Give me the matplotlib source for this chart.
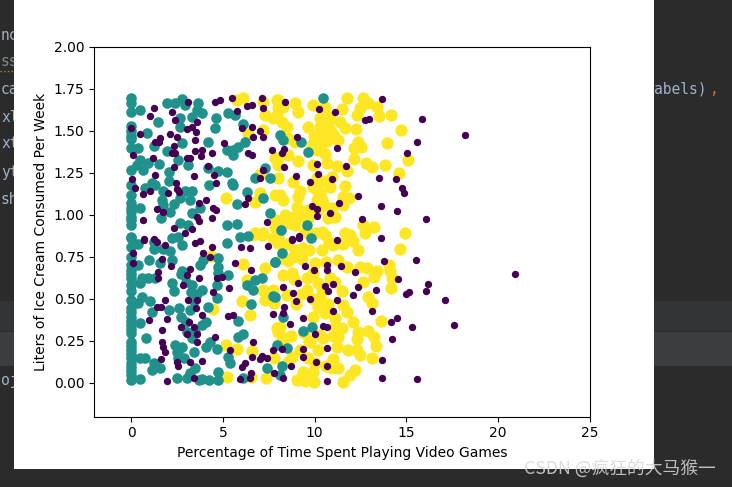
import matplotlib
matplotlib.use("Agg")
import matplotlib.pyplot as plt
from matplotlib.patches import Rectangle
from matplotlib.lines import Line2D

# valores: (tiempo de juego, helado)
x_didnt = [0,0.49,1.22,1.03,2.22,3.12,4.58,4.85,5.48,5.76,6.57,6.30,7.12,7.17,2.40,3.58,3.30,3.03,3.54,3.49,2.12,2.52,1.58,1.31,1.54,2.31,2.22,2.40,3.49,3.85,3.81,4.39,5.07,6.39,6.57,6.03,6.57,7.03,6.66,7.21,7.66,0.13,1.18,2.31,3.03,3.21,4.18,1.31,0.07,3.43,4.54,4.61,2.45,2.52,2.63,1.03,0.64,0.22,2.03,4.09,3.70,4.45,4.61,6.21,6.39,7.03,7.21,1.43,1.76,0.67,3.58,4.39,3.70,2.36,2.94,3.30,7.39,0.71,1.22,
    0.71,0.13,1.40,1.85,3.49,3.76,4.39,5.97,6.48,7.48,3.94,4.30,1.67,2.18,5.66,6.54,0.13,1.49,1.49,3.21,3.03,2.85,3.72,4.67,4.94,5.35,4.45,1.85,1.40,1.62,1.0,1.94,3.12,3.58,3.54,3.85,3.16,2.70,3.43,1.70,3.03,3.61,3.61,1.67,1.76,1.82,4.58,5.30,5.54,7.75,6.66,5.39,6.61,7.12,7.0,7.72,6.21,6.03,3.85,3.21,2.52,2.58,1.62,5.94,6.52,6.48,1.94,3.43,7.79,7.39,
    8.39,10.26,11.11,13.65,15.83,12.75,12.96,9.02,8.33,8.24,11.2,15.56,15.03,10.11,11.73,8.35,8.97,10.2,9.75,10.95,13.51,14.43,14.74,14.85,12.38,11.33,9.84,10.11,10.15,13.62,14.49,16.05,12.6,9.15,13.62,8.75,11.2,10.84,
    8.75,9.15,13.78,15.54,9.48,9.97,10.66,10.66,11.42,12.2,14.56,16.19,16.05,15.16,14.96,9.11,8.3,10.57,11.02,10.75,12.38,13.34,12.07,11.22,9.75,8.97,8.84,8.35,8.3,11.02,13.13,9.39,8.66,10.48,10.66,14.14,14.5,15.29,14.23,10.66,8.21,9.39,9.39,10.08,13.65,10.69,8.70,8.3,10.69,13.65,15.6,10.02,
    20.91,18.17,17.08,17.61]
y_didnt = [1.516,1.48,1.639,1.591,1.611,1.675,1.675,1.685,1.695,1.619,1.655,1.651,1.699,1.635,1.566,1.556,1.526,1.51,1.492,1.447,1.48,1.466,1.46,1.437,1.437,1.413,1.367,1.367,1.381,1.387,1.351,1.367,1.427,1.367,1.357,1.516,1.526,1.5,1.466,1.466,1.387,1.357,1.337,1.288,1.337,1.341,1.292,1.238,1.214,1.234,1.238,1.189,1.189,1.155,1.135,1.143,1.123,1.159,1.129,1.09,1.07,1.044,1.03,1.064,1.1,1.218,1.268,1.036,1.02,0.97,0.99,0.98,0.964,0.921,0.891,0.917,0.96,0.857,0.857,
    0.851,0.772,0.837,0.821,0.831,0.845,0.812,0.812,0.802,0.816,0.772,0.752,0.738,0.698,0.712,0.673,0.712,0.663,0.623,0.677,0.643,0.583,0.623,0.627,0.633,0.563,0.544,0.494,0.454,0.450,0.375,0.379,0.494,0.494,0.448,0.405,0.365,0.335,0.335,0.315,0.292,0.292,0.246,0.246,0.212,0.186,0.276,0.399,0.405,0.409,0.242,0.196,0.157,0.163,0.141,0.196,0.117,0.097,0.131,0.127,0.127,0.103,0.141,0.024,0.057,0.028,0.012,0.032,0.057,0.147,
    1.675,1.631,1.611,1.691,1.572,1.566,1.572,1.466,1.393,1.367,1.397,1.433,1.371,1.302,1.292,1.288,1.234,1.244,1.199,1.214,1.222,1.214,1.159,1.133,1.115,1.072,1.056,1.036,0.996,1.056,1.022,0.976,0.976,0.877,0.865,0.857,0.851,1.01,
    0.851,0.861,0.728,0.732,0.696,0.673,0.702,0.673,0.696,0.663,0.619,0.587,0.548,0.544,0.530,0.597,0.573,0.579,0.587,0.548,0.569,0.554,0.524,0.494,0.498,0.490,0.534,0.454,0.415,0.431,0.431,0.389,0.349,0.339,0.331,0.365,0.385,0.335,0.264,0.208,0.2,0.2,0.153,0.127,0.137,0.101,0.101,0.032,0.012,0.028,0.024,0.29,
    0.647,1.478,0.494,0.343]

x_small = [0,0,0,0.49,1.49,1.94,2.40,2.76,2.94,3.67,3.58,3.30,3.85,2.67,2.67,4.63,4.58,5.30,5.66,6.12,0,0,0,0.40,0.85,1.22,1.94,2.76,4.21,5.21,5.57,5.85,6.21,5.57,0.49,0.31,0.67,0.94,1.54,2.58,3.12,2.07,2.07,0,0,0,0.76,1.13,1.31,1.76,1.67,1.76,2.31,2.67,2.94,3.30,3.21,4.27,4.21,4.76,5.21,5.48,5.57,6.30,5.76,7.21,7.57,7.30,6.75,0,0,0,0.49,2.12,1.62,3.76,3.30,2.67,3.12,5.25,5.76,7.57,0,
    0,0,0.40,1.22,1.22,2.22,2.58,2.76,2.12,1.0,1.58,2.22,0.40,0,0,0,0.58,0.49,0.94,1.31,2.76,2.22,2.31,0,0,0,0,0,0,0.58,0.40,1.03,0.46,1.13,2.07,2.63,2.70,3.21,3.30,3.25,3.76,3.94,4.76,4.76,4.76,5.30,4.67,4.67,3.85,4.21,4.09,3.85,3.49,3.03,4.30,4.09,4.70,5.85,6.12,5.85,6.52,7.75,6.66,6.30,6.75,7.12,7.84,5.21,5.94,6.39,0.80,2.40,2.76,2.52,2.58,3.40,0,0,0,0,0,0.49,0.76,0.49,1.22,1.13,1.58,2.52,3.03,3.49,3.85,4.27,4.76,4.76,5.39,5.30,7.42,7.93,6.08,
    10.48,8.11,8.30,9.26,9.66,9.6,8.17,9.79,8.21,9.84,9.39,8.3,8.48,8.21,8.11,7.84,7.84,
    0,0,0,0,0,0,0,0,0,0,0,0,0,0,0,0,3.0,3.3,3.6,3.0,3.4,2.7,1.75,2.6,2.9,1.3,3.7,3.2]
y_small = [1.695,1.665,1.615,1.625,1.555,1.665,1.665,1.69,1.655,1.665,1.625,1.585,1.605,1.575,1.525,1.575,1.515,1.605,1.595,1.54,1.50,1.45,1.40,1.40,1.49,1.41,1.38,1.43,1.437,1.387,1.387,1.407,1.433,1.357,1.327,1.298,1.268,1.308,1.302,1.327,1.298,1.258,1.203,1.268,1.179,1.119,1.159,1.189,1.179,1.143,1.09,1.06,1.064,1.103,1.143,1.143,1.09,1.179,1.278,1.262,1.258,1.189,1.179,1.135,1.066,1.103,1.218,1.282,1.222,1.04,0.99,0.94,1.044,1.02,0.984,1.044,1.01,0.95,0.94,0.94,0.945,1.01,0.87,
    0.861,0.812,0.825,0.841,0.798,0.865,0.871,0.821,0.786,0.732,0.712,0.732,0.702,0.673,0.623,0.583,0.623,0.593,0.623,0.623,0.667,0.593,0.548,0.494,0.444,0.395,0.345,0.296,0.246,0.514,0.474,0.488,0.355,0.421,0.435,0.448,0.395,0.435,0.583,0.544,0.702,0.732,0.742,0.692,0.653,0.643,0.583,0.504,0.554,0.454,0.365,0.345,0.306,0.306,0.246,0.216,0.2,0.369,0.29,0.276,0.468,0.518,0.554,0.583,0.613,0.627,0.722,0.831,0.871,0.877,0.266,0.226,0.216,0.186,0.147,0.186,0.196,0.147,0.097,0.048,0.018,0.151,0.147,0.022,0.117,0.077,0.087,0.028,0.032,0.087,0.024,0.018,0.063,0.018,0.117,0.157,0.087,0.226,0.032,
    1.699,1.476,1.447,1.433,1.373,0.941,0.911,0.861,0.772,0.331,0.312,0.395,0.206,0.103,0.048,0.722,0.514,
    0.75,0.7,0.65,0.55,0.42,0.37,0.32,0.22,0.17,0.12,0.07,1.53,1.47,1.07,1.02,0.97,0.36,0.27,0.53,0.6,0.49,0.65,0.8,0.2,0.15,0.1,0.02,0.06]

x_large = [4.34,6.08,7.30,6.30,7.21,7.75,7.30,7.79,6.03,6.48,4.45,8.02,5.17,5.76,6.57,7.79,5.25,7.35,6.52,6.66,7.12,7.75,8.02,
    5.76,6.12,7.21,7.93,7.30,7.75,6.39,7.21,7.84,7.03,5.17,6.75,7.03,7.84,7.84,6.75,7.21,7.84,8.02,8.02,8.02,
    8.02,8.93,9.11,8.30,7.93,8.21,8.48,9.93,10.57,11.75,12.62,12.93,13.38,12.47,12.29,11.47,13.51,14.14,14.70,10.84,10.29,11.38,9.66,10.29,10.84,11.66,12.26,10.2,10.66,11.29,8.57,8.93,9.84,10.11,10.57,8.57,8.02,9.11,9.93,10.66,11.2,11.75,12.15,12.15,12.53,12.38,13.93,15.1,12.78,13.11,13.83,14.6,7.99,8.84,10.29,10.97,10.84,11.66,9.93,9.2,9.11,10.2,10.11,8.11,8.30,11.57,11.88,11.57,10.38,9.02,9.66,10.93,8.39,8.84,9.66,10.75,11.11,8.11,8.93,9.48,10.02,10.38,11.66,11.93,12.65,12.75,13.23,14.92,10.57,
    12.38,14.65,12.1,11.57,11.02,10.38,9.39,8.93,8.21,8.57,10.02,11.29,11.75,12.47,12.84,13.38,14.05,14.11,14.2,14.16,13.25,12.65,8.3,8.75,9.57,9.93,10.2,10.84,11.11,11.47,8.48,9.3,9.57,10.29,10.2,11.57,11.75,10.57,9.93,11.11,12.11,12.93,13.11,13.6,8.11,8.21,11.11,11.47,10.29,10.48,9.75,11.29,12.38,12.93,12.29,13.25,13.34,11.2,10.2,11.8,12.29,12.47,13.14,9.2,8.75,8.57,11.02,10.93,11.29,12.2,11.93,11.57,10.02,9.66,9.93,9.39,9.02,9.48,9.98,8.3,7.93,
    10.55,10.4,10.75,11.0,9.95,10.6,10.3,10.1,10.5,10.2,9.4,9.15,8.6,8.5,8.8,9.3,9.7,10.6,10.8,10.4,10.7,9.9,9.0,8.85,9.4,8.7,11.0,10.6,9.6,9.7]
y_large = [0.758,0.706,0.683,0.613,0.554,0.554,0.494,0.474,0.490,0.405,0.441,0.306,0.226,0.2,0.19,0.151,0.034,0.028,0.038,0.881,0.881,0.861,0.831,
    1.685,1.699,1.675,1.685,1.595,1.575,1.48,1.506,1.337,1.242,1.099,1.079,1.129,1.119,0.97,0.891,0.891,0.931,0.871,1.635,1.298,
    1.685,1.665,1.615,1.645,1.595,1.556,1.526,1.655,1.645,1.699,1.695,1.665,1.645,1.635,1.595,1.629,1.591,1.595,1.506,1.585,1.575,1.556,1.526,1.526,1.506,1.516,1.512,1.457,1.441,1.447,1.46,1.437,1.417,1.387,1.361,1.357,1.337,1.322,1.298,1.308,1.292,1.264,1.333,1.397,1.407,1.433,1.431,1.328,1.312,1.284,1.298,1.252,1.222,1.199,1.199,1.228,1.169,1.173,1.169,1.143,1.109,1.139,1.09,1.119,1.09,1.109,1.099,1.06,1.09,1.05,1.03,1.04,1.0,0.99,0.98,0.98,0.99,0.96,0.941,0.901,0.891,0.901,0.891,0.881,0.941,0.891,0.931,0.891,0.881,
    0.792,0.796,0.845,0.825,0.821,0.792,0.802,0.792,0.742,0.726,0.712,0.732,0.692,0.689,0.683,0.667,0.702,0.667,0.623,0.563,0.633,0.599,0.643,0.653,0.627,0.653,0.593,0.623,0.603,0.548,0.524,0.528,0.554,0.504,0.454,0.464,0.425,0.415,0.395,0.385,0.365,0.510,0.478,0.369,0.335,0.276,0.335,0.325,0.286,0.266,0.246,0.276,0.306,0.309,0.262,0.276,0.22,0.216,0.196,0.196,0.196,0.167,0.147,0.196,0.157,0.127,0.143,0.091,0.087,0.077,0.048,0.008,0.117,0.147,0.067,0.067,0.018,0.012,0.008,0.246,0.325,
    1.5,1.43,1.55,1.48,1.47,1.2,1.13,1.22,1.06,1.03,1.02,0.99,0.95,0.83,0.75,0.74,0.79,0.72,0.84,0.55,0.47,0.5,0.47,0.62,0.3,0.28,0.28,0.1,0.03,0.25]

x_ticks = [0, 5, 10, 15, 20, 25]
y_ticks = [0.00, 0.25, 0.50, 0.75, 1.00, 1.25, 1.50, 1.75, 2.00]

W, H = 732, 487
fig = plt.figure(figsize=(W / 100, H / 100), dpi=100, facecolor="#2b2b2b")


def caja(x0, y0, x1, y1, color, z):
    # rectangulo en pixeles de la captura (y hacia abajo)
    fig.add_artist(Rectangle((x0 / W, 1 - y1 / H), (x1 - x0) / W, (y1 - y0) / H,
                             transform=fig.transFigure, facecolor=color,
                             edgecolor="none", zorder=z))


def codigo(x, y, s, color="#9fb3c6"):
    fig.text(x / W, 1 - y / H, s, family="DejaVu Sans Mono", fontsize=10.5,
             color=color, va="center", zorder=1)


# fondo del editor detras de la ventana
caja(0, 301, W, 331, "#323436", 0.5)
caja(0, 332, W, 366, "#3b3e41", 0.5)
for yy, s in [(35, "nc"), (62, "ss"), (89, "ca"), (117, "xl"), (144, "xt"), (172, "yt"), (199, "sh"), (381, "oj")]:
    codigo(1, yy, s, "#7f8a94" if yy == 62 else "#9fb3c6")
codigo(654, 89, "abels)")
codigo(709, 89, ",", "#cc7832")
fig.add_artist(Line2D([0, 14 / W], [1 - 71 / H] * 2, transform=fig.transFigure,
                      color="#8a8a50", lw=1, ls=":", zorder=1))

caja(14, 0, 654, 469, "white", 2)

ax = fig.add_axes([94.4 / W, 1 - 416.5 / H, 495.6 / W, 369.5 / H], zorder=3)
ax.patch.set_facecolor("white")
viridis = plt.get_cmap("viridis")
ax.scatter(x_large, y_large, s=78, color=viridis(1.0), linewidths=0)
ax.scatter(x_small, y_small, s=58, color=viridis(0.5), linewidths=0)
ax.scatter(x_didnt, y_didnt, s=28, color=viridis(0.0), linewidths=0)
ax.set_xlim(-2, 25)
ax.set_ylim(-0.2, 2.0)
ax.set_xticks(x_ticks)
ax.set_yticks(y_ticks)
ax.set_yticklabels([f"{v:.2f}" for v in y_ticks])
ax.set_xlabel("Percentage of Time Spent Playing Video Games")
ax.set_ylabel("Liters of Ice Cream Consumed Per Week")

fig.text(524 / W, 1 - 469 / H, "CSDN @疯狂的大马猴一", fontsize=12.8, color="#d8d8d8", alpha=0.85,
         family=["Noto Sans CJK SC", "DejaVu Sans"], va="center", zorder=5)

fig.savefig("out.png", dpi=100, facecolor=fig.get_facecolor())
